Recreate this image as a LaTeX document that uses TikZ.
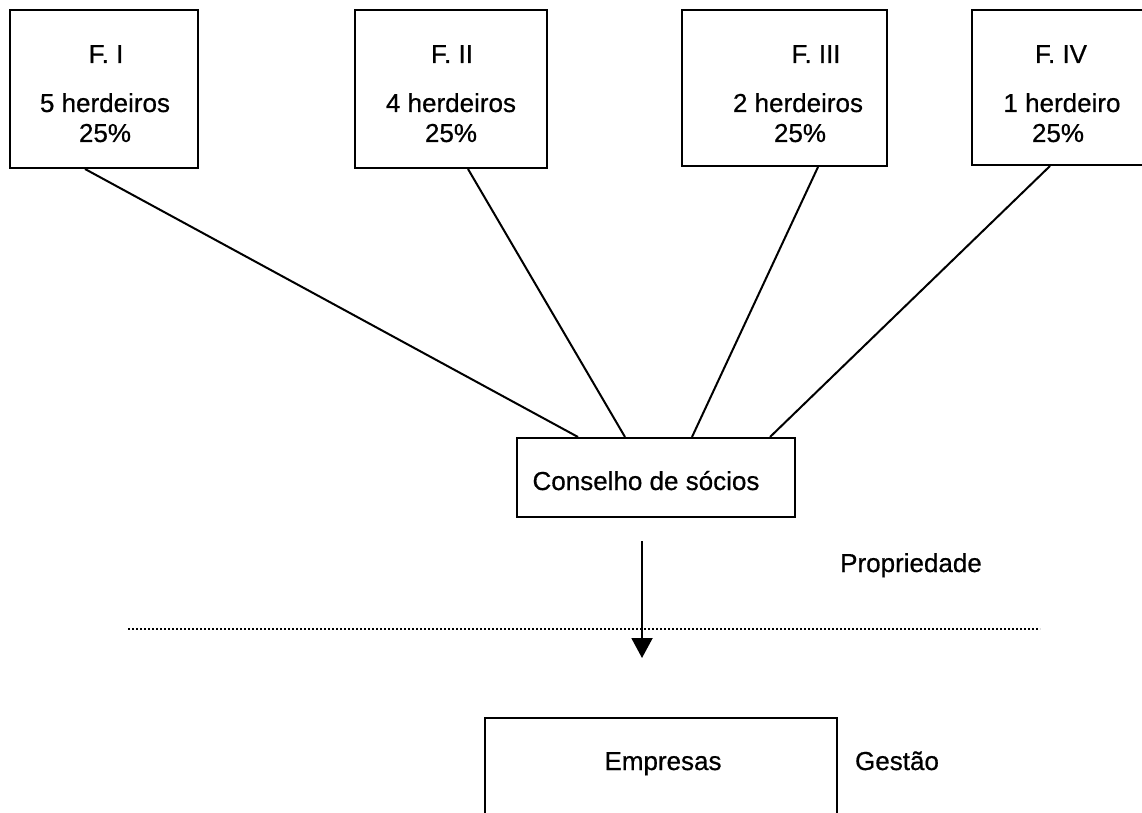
\documentclass[tikz,border=0pt]{standalone}
\usepackage{fontspec}
\setmainfont{Liberation Sans}[FakeBold=0.6]
\usetikzlibrary{calc,arrows.meta}

\begin{document}
\begin{tikzpicture}[x=1pt,y=-1pt,
  box/.style={draw,line width=2pt,inner sep=0pt,rectangle},
  lbl/.style={anchor=base,inner sep=0pt,font=\fontsize{26}{31}\selectfont},
  link/.style={line width=2pt},
  flow/.style={line width=2pt,-{Triangle[length=20pt,width=21pt]}},
  divider/.style={line width=2.2pt,dash pattern=on 2pt off 2pt}]
  \clip (0,0) rectangle (1142,813);
  \fill[white] (0,0) rectangle (1142,813);

  % family branches
  \node[box,minimum width=188pt,minimum height=158pt] (f1) at (104,89) {};
  \node[box,minimum width=192pt,minimum height=158pt] (f2) at (451,89) {};
  \node[box,minimum width=205pt,minimum height=156pt] (f3) at (784.5,88) {};
  \node[box,minimum width=180pt,minimum height=155pt] (f4) at (1062,87.5) {};

  \node[lbl] (f1a) at (106,63) {F. I};
  \node[lbl] (f1b) at (105,112) {5 herdeiros};
  \node[lbl] (f1c) at (105,142) {25\%};
  \node[lbl] (f2a) at (452,63) {F. II};
  \node[lbl] (f2b) at (451,112) {4 herdeiros};
  \node[lbl] (f2c) at (451,142) {25\%};
  \node[lbl] (f3a) at (816,63) {F. III};
  \node[lbl] (f3b) at (798,112) {2 herdeiros};
  \node[lbl] (f3c) at (800,142) {25\%};
  \node[lbl] (f4a) at (1061,63) {F. IV};
  \node[lbl] (f4b) at (1062,112) {1 herdeiro};
  \node[lbl] (f4c) at (1058,142) {25\%};

  % partners' council and companies
  \node[box,minimum width=278pt,minimum height=79pt] (cs) at (656,477.5) {};
  \node[lbl] (cst) at (646,490) {Conselho de sócios};
  \node[box,minimum width=352pt,minimum height=112pt] (emp) at (661,774) {};
  \node[lbl] (empt) at (663,770) {Empresas};

  \node[lbl] (prop) at (911,572) {Propriedade};
  \node[lbl] (gest) at (897,770) {Gestão};

  % branches feeding the council
  \draw[link] ($(f1.south)+(-19,0)$) -- ($(cs.north)+(-78,0)$);
  \draw[link] ($(f2.south)+(17,0)$) -- ($(cs.north)+(-31,0)$);
  \draw[link] ($(f3.south)+(33.5,0)$) -- ($(cs.north)+(36,0)$);
  \draw[link] ($(f4.south)+(-12,0)$) -- ($(cs.north)+(114,0)$);

  % ownership / management boundary
  \coordinate (divL) at (128,629);
  \coordinate (divR) at (1040,629);
  \draw[divider] (divL) -- (divR);

  \coordinate (tip) at (642,658);
  \draw[flow] ($(cs.south)+(-14,23)$) -- (tip);
\end{tikzpicture}
\end{document}
